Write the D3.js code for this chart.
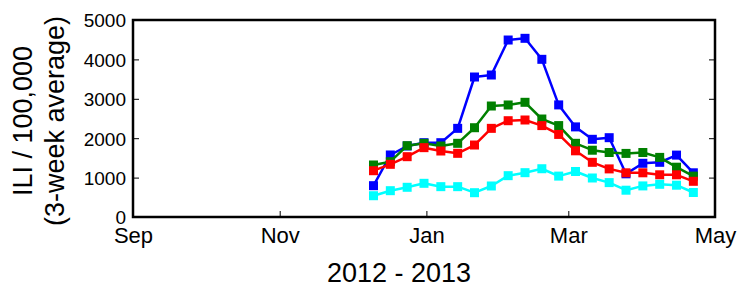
<!DOCTYPE html>
<html>
<head>
<meta charset="utf-8">
<script src="https://cdn.jsdelivr.net/npm/d3@7"></script>
<style>
  body { margin: 0; background: #fff; }
  text { font-family: "Liberation Sans", Arial, sans-serif; fill: #000; }
</style>
</head>
<body>
<script>
// weekly points, Dec 2012 - Apr 2013
var weekStart = "2012-12-10";
var nWeeks = 20;

var blueVals  = [795, 1574, 1802, 1886, 1886, 2250, 3553, 3604, 4492, 4535, 4002, 2845, 2287, 1972, 2013, 1096, 1363, 1388, 1571, 1122];
var greenVals = [1320, 1404, 1810, 1870, 1802, 1870, 2266, 2817, 2843, 2911, 2487, 2320, 1870, 1695, 1637, 1614, 1637, 1513, 1264, 1038];
var redVals   = [1175, 1337, 1531, 1760, 1675, 1616, 1827, 2250, 2444, 2462, 2320, 2096, 1680, 1388, 1221, 1122, 1122, 1071, 1071, 906];
var cyanVals  = [540, 668, 754, 855, 770, 770, 617, 787, 1049, 1125, 1225, 1038, 1155, 990, 873, 680, 789, 830, 807, 622];

var yTicks = [0, 1000, 2000, 3000, 4000, 5000];
var xTickDates = ["2012-09-01", "2012-11-01", "2013-01-01", "2013-03-01", "2013-05-01"];
var xTickLabels = ["Sep", "Nov", "Jan", "Mar", "May"];

var parse = d3.timeParse("%Y-%m-%d");
var start = parse(weekStart);
var dates = d3.range(nWeeks).map(function(i){ return d3.timeDay.offset(start, 7 * i); });

var series = [
    {color: "#0000ff", values: blueVals},
    {color: "#008000", values: greenVals},
    {color: "#ff0000", values: redVals},
    {color: "#00ffff", values: cyanVals}
];

window.onload = function(){
    var W = 748, H = 288;
    var left = 133, right = 715, top = 20, bottom = 217;

    var svg = d3.select("body").append("svg")
        .attr("width", W)
        .attr("height", H);

    var x = d3.scaleTime()
        .domain([parse("2012-09-01"), parse("2013-05-01")])
        .range([left, right]);
    var y = d3.scaleLinear()
        .domain([0, 5000])
        .range([bottom, top]);

    // lines and square markers
    var line = d3.line()
        .x(function(d, i){ return x(dates[i]); })
        .y(function(d){ return y(d); });

    series.forEach(function(s){
        svg.append("path")
            .datum(s.values)
            .attr("d", line)
            .attr("fill", "none")
            .attr("stroke", s.color)
            .attr("stroke-width", 2.5)
            .attr("stroke-linejoin", "round");
        svg.selectAll(null)
            .data(s.values)
            .enter().append("rect")
            .attr("x", function(d, i){ return x(dates[i]) - 4.5; })
            .attr("y", function(d){ return y(d) - 4.5; })
            .attr("width", 9)
            .attr("height", 9)
            .attr("fill", s.color);
    });

    // left axis
    var yAxis = svg.append("g")
        .attr("transform", "translate(" + left + ",0)")
        .call(d3.axisLeft(y).tickValues(yTicks).tickSize(-6).tickPadding(7).tickFormat(d3.format("d")));
    yAxis.select(".domain").remove();
    yAxis.selectAll("line").attr("stroke", "#000").attr("stroke-width", 1);
    yAxis.selectAll("text").style("font-size", "19px").attr("dy", "0.36em");

    // right ticks
    var yAxisR = svg.append("g")
        .attr("transform", "translate(" + right + ",0)")
        .call(d3.axisRight(y).tickValues(yTicks).tickSize(-6).tickFormat(""));
    yAxisR.select(".domain").remove();

    // bottom axis
    var xAxis = svg.append("g")
        .attr("transform", "translate(0," + bottom + ")")
        .call(d3.axisBottom(x).tickValues(xTickDates.map(parse)).tickSize(-6).tickPadding(10)
            .tickFormat(function(d, i){ return xTickLabels[i]; }));
    xAxis.select(".domain").remove();
    xAxis.selectAll("text").style("font-size", "22px").attr("dy", "0.71em");

    // frame
    svg.append("rect")
        .attr("x", left)
        .attr("y", top)
        .attr("width", right - left)
        .attr("height", bottom - top)
        .attr("fill", "none")
        .attr("stroke", "#000")
        .attr("stroke-width", 2.5);

    // axis titles
    svg.append("text")
        .attr("transform", "translate(32,121) rotate(-90)")
        .attr("text-anchor", "middle")
        .style("font-size", "27px")
        .text("ILI / 100,000");
    svg.append("text")
        .attr("transform", "translate(64,121) rotate(-90)")
        .attr("text-anchor", "middle")
        .style("font-size", "27px")
        .text("(3-week average)");

    svg.append("text")
        .attr("x", (left + right) / 2 - 25)
        .attr("y", 282)
        .attr("text-anchor", "middle")
        .style("font-size", "27px")
        .text("2012 - 2013");
};
</script>
</body>
</html>
